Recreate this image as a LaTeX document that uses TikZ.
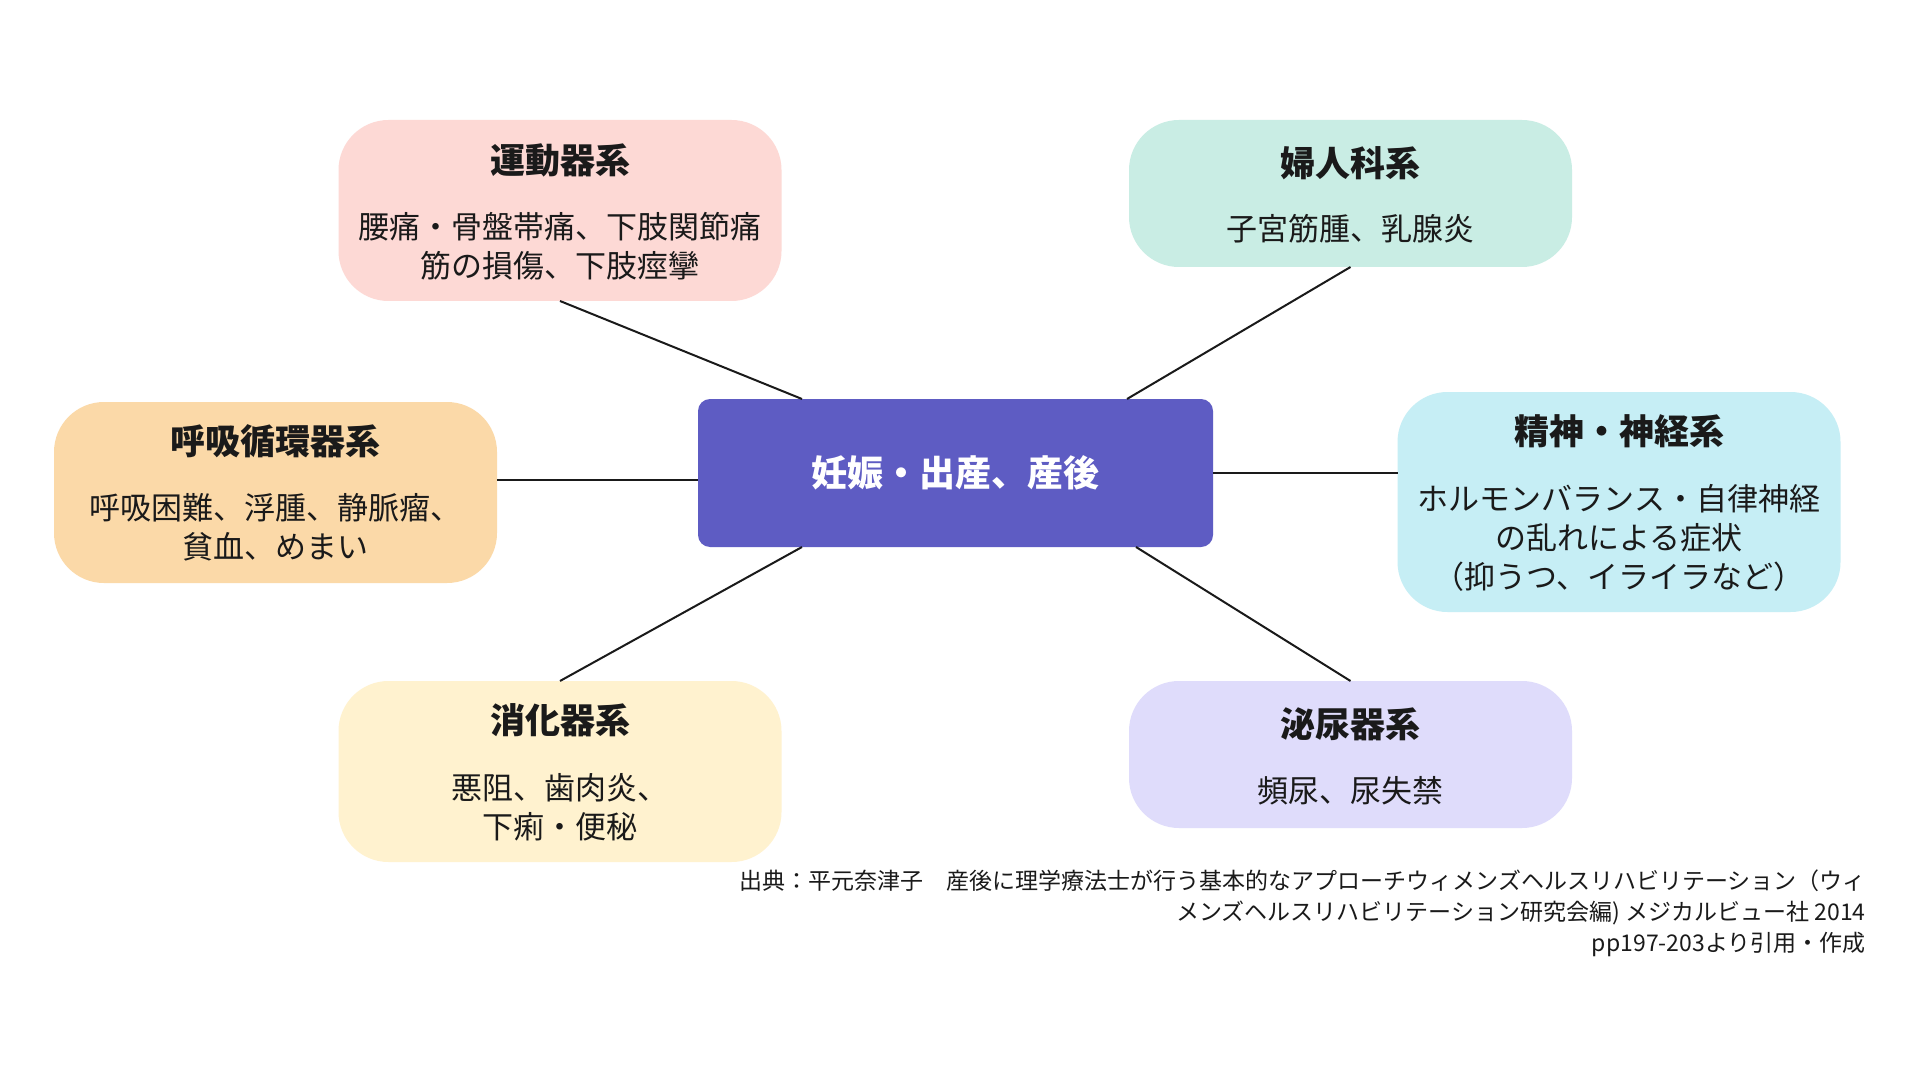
\documentclass[tikz,border=0pt]{standalone}
\usepackage{fontspec}
\setmainfont{Noto Sans CJK JP}
\definecolor{ink}{HTML}{1A1A1A}
\definecolor{cpink}{HTML}{FDD9D5}
\definecolor{cmint}{HTML}{C9EDE4}
\definecolor{corange}{HTML}{FBD9A8}
\definecolor{ccyan}{HTML}{C6EEF5}
\definecolor{ccream}{HTML}{FFF2CF}
\definecolor{clav}{HTML}{DFDCFB}
\definecolor{ccenter}{HTML}{5E5CC3}
\begin{document}
\begin{tikzpicture}[x=0.5pt,y=-0.5pt,
  box/.style={rounded corners=25pt, inner sep=0pt, outer sep=0pt, minimum width=221.5pt},
  ttl/.style={font=\fontsize{17.5}{21}\selectfont\bfseries, text=ink, inner sep=0pt},
  body/.style={font=\fontsize{15.5}{19.5}\selectfont, text=ink, align=center, inner sep=0pt},
  link/.style={draw=ink, line width=1pt}]
\fill[white] (0,0) rectangle (1920,1080);
\useasboundingbox (0,0) rectangle (1920,1080);
% boxes
\node[box, fill=cpink, minimum height=90.5pt] (undo) at (560,210.5) {};
\node[box, fill=cmint, minimum height=73.5pt] (fujin) at (1350.5,193.5) {};
\node[box, fill=corange, minimum height=90.5pt] (kokyu) at (275.5,492.5) {};
\node[box, fill=ccyan, minimum height=110pt] (seishin) at (1619,502) {};
\node[box, fill=ccream, minimum height=90.5pt] (shoka) at (560,771.5) {};
\node[box, fill=clav, minimum height=73.5pt] (hinyo) at (1350.5,754.5) {};
\node[rounded corners=6pt, fill=ccenter, minimum width=257.5pt, minimum height=74pt, inner sep=0pt, outer sep=0pt,
      text=white, font=\fontsize{18}{22}\selectfont\bfseries] (c) at (955.5,473) {妊娠・出産、産後};
% titles
\node[ttl] (t1) at (560,160) {運動器系};
\node[ttl] (t2) at (1350.5,163) {婦人科系};
\node[ttl] (t3) at (275.5,441) {呼吸循環器系};
\node[ttl] (t4) at (1619,431) {精神・神経系};
\node[ttl] (t5) at (560,720) {消化器系};
\node[ttl] (t6) at (1350.5,724) {泌尿器系};
% bodies
\node[body] (b1) at (560,246) {腰痛・骨盤帯痛、下肢関節痛\\筋の損傷、下肢痙攣};
\node[body] (b2) at (1350.5,229) {子宮筋腫、乳腺炎};
\node[body] (b3) at (275.5,527) {呼吸困難、浮腫、静脈瘤、\\貧血、めまい};
\node[body] (b4) at (1619,538) {ホルモンバランス・自律神経\\の乱れによる症状\\（抑うつ、イライラなど）};
\node[body] (b5) at (560,807.5) {悪阻、歯肉炎、\\下痢・便秘};
\node[body] (b6) at (1350.5,791) {頻尿、尿失禁};
% connectors
\coordinate (kl) at ([yshift=-3.5pt]c.west);
\draw[link] (undo.south) -- ([xshift=52pt]c.north west);
\draw[link] (fujin.south) -- ([xshift=-43pt]c.north east);
\draw[link] (kl -| kokyu.east) -- (kl);
\draw[link] (c.east) -- (c.east -| seishin.west);
\draw[link] (shoka.north) -- ([xshift=52pt]c.south west);
\draw[link] (hinyo.north) -- ([xshift=-38.5pt]c.south east);
% citation
\node[anchor=east, align=right, inner sep=0pt, text=ink, font=\fontsize{11.5}{15.5}\selectfont] (cite) at (1866,913)
  {出典：平元奈津子　産後に理学療法士が行う基本的なアプローチウィメンズヘルスリハビリテーション（ウィ\\
   メンズヘルスリハビリテーション研究会編) メジカルビュー社 2014\\
   pp197-203より引用・作成};
\end{tikzpicture}
\end{document}
